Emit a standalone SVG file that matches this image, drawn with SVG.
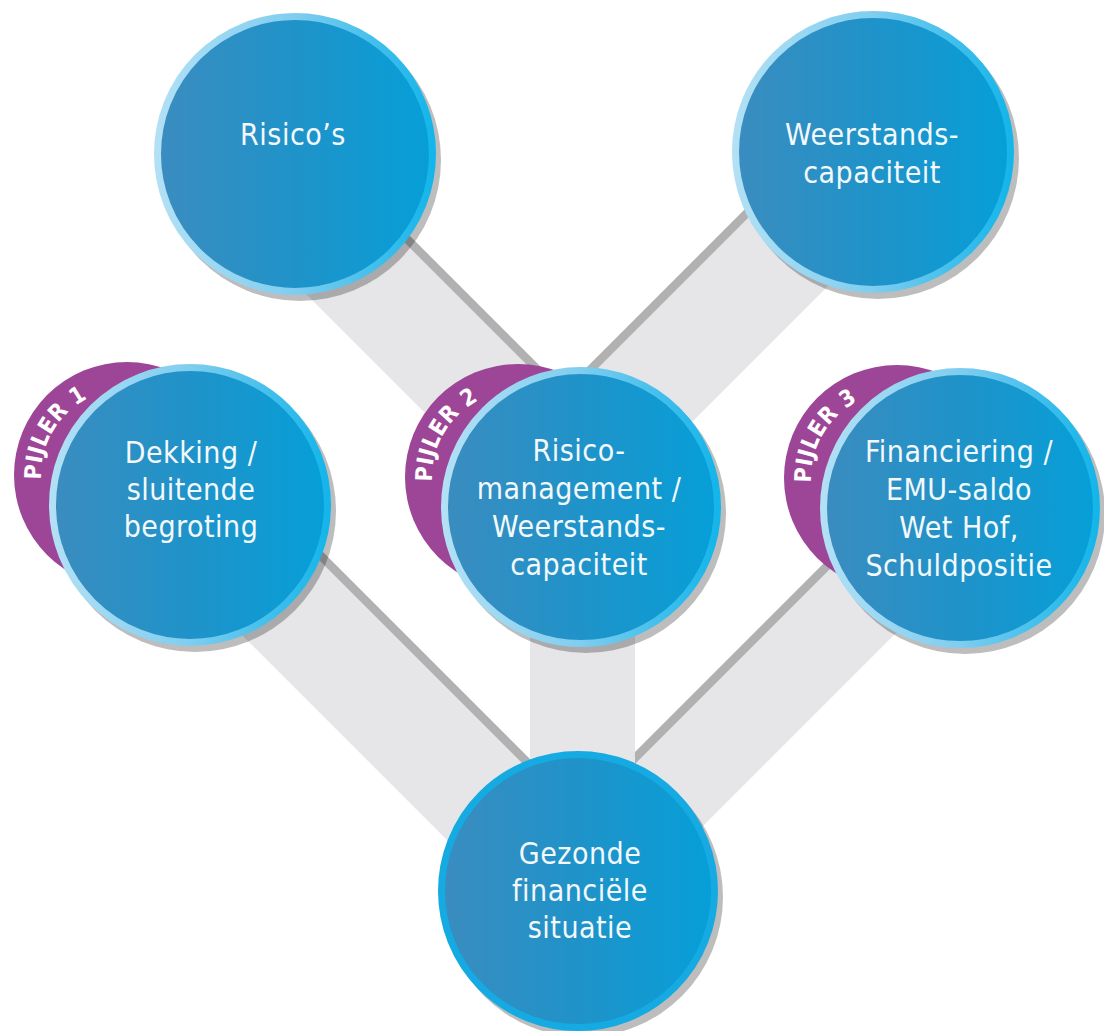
<svg xmlns="http://www.w3.org/2000/svg" width="1104" height="1031" viewBox="0 0 1104 1031">
<defs>
<linearGradient id="fillG" x1="0" y1="0" x2="1" y2="0">
<stop offset="0" stop-color="#3b8cbf"/>
<stop offset="0.5" stop-color="#1f93c9"/>
<stop offset="1" stop-color="#069fd8"/>
</linearGradient>
<linearGradient id="ringG" x1="0" y1="0" x2="1" y2="0">
<stop offset="0" stop-color="#b2e0f5"/>
<stop offset="0.5" stop-color="#80cdef"/>
<stop offset="1" stop-color="#14b5ea"/>
</linearGradient>
<style>
.band{fill:#e6e6e8}
.stripe{stroke:#b1b1b1;stroke-width:8.5;fill:none}
.shadow{fill:#000;fill-opacity:0.26}
.disc{fill:url(#fillG);stroke:url(#ringG);stroke-width:7}
.disc2{fill:url(#fillG);stroke:#16aae2;stroke-width:7}
.pillar{fill:#9d4597}
.lbl{font-family:"DejaVu Sans Condensed","DejaVu Sans",sans-serif;font-stretch:condensed;font-size:30px;fill:#f3f8fb;text-anchor:middle;letter-spacing:0.5px}
.pl{font-family:"DejaVu Sans Condensed","DejaVu Sans",sans-serif;font-stretch:condensed;font-weight:bold;font-size:23px;fill:#ffffff;letter-spacing:0.5px}
</style>
<path id="arc1" d="M71.7,540.9 A86,86 0 0 1 156.4,394.2"/>
<path id="arc2" d="M462.7,542.9 A86,86 0 0 1 547.4,396.2"/>
<path id="arc3" d="M841.7,543.9 A86,86 0 0 1 926.4,397.2"/>
</defs>
<rect x="0" y="0" width="1104" height="1031" fill="#ffffff"/>

<g id="connectors">
<polygon class="band" points="330,162 600,432 522,510 252,240"/>
<line class="stripe" x1="330" y1="162" x2="600" y2="432"/>
<polygon class="band" points="800,160 877,237 647,467 570,390"/>
<line class="stripe" x1="800" y1="160" x2="570" y2="390"/>
<polygon class="band" points="280,515 560,795 481,874 201,594"/>
<line class="stripe" x1="280" y1="515" x2="560" y2="795"/>
<polygon class="band" points="880,513 948,581 678,851 610,783"/>
<line class="stripe" x1="880" y1="513" x2="610" y2="783"/>
<rect class="band" x="530" y="560" width="105" height="240"/>
</g>

<g id="node-risicos">
<circle class="shadow" cx="300" cy="160" r="141"/>
<circle class="disc" cx="295" cy="154" r="137.5"/>
<text class="lbl" x="293" y="145">Risico’s</text>
</g>

<g id="node-weerstand">
<circle class="shadow" cx="878" cy="158" r="141"/>
<circle class="disc" cx="873" cy="152" r="137.5"/>
<text class="lbl" x="872" y="145">Weerstands-</text>
<text class="lbl" x="872" y="183">capaciteit</text>
</g>

<g id="node-pijler1">
<circle class="pillar" cx="127" cy="475" r="113"/>
<text class="pl"><textPath href="#arc1" startOffset="50%" text-anchor="middle">PIJLER 1</textPath></text>
<circle class="shadow" cx="195" cy="511" r="141"/>
<circle class="disc" cx="190" cy="505" r="137.5"/>
<text class="lbl" x="191" y="463">Dekking /</text>
<text class="lbl" x="191" y="500">sluitende</text>
<text class="lbl" x="191" y="537">begroting</text>
</g>

<g id="node-pijler2">
<circle class="pillar" cx="518" cy="477" r="113"/>
<text class="pl"><textPath href="#arc2" startOffset="50%" text-anchor="middle">PIJLER 2</textPath></text>
<circle class="shadow" cx="586" cy="513" r="140"/>
<circle class="disc" cx="581" cy="507" r="136.5"/>
<text class="lbl" x="579" y="461">Risico-</text>
<text class="lbl" x="579" y="499">management /</text>
<text class="lbl" x="579" y="537">Weerstands-</text>
<text class="lbl" x="579" y="575">capaciteit</text>
</g>

<g id="node-pijler3">
<circle class="pillar" cx="897" cy="478" r="113"/>
<text class="pl"><textPath href="#arc3" startOffset="50%" text-anchor="middle">PIJLER 3</textPath></text>
<circle class="shadow" cx="965" cy="514" r="140"/>
<circle class="disc" cx="960" cy="508" r="136.5"/>
<text class="lbl" x="959" y="462">Financiering /</text>
<text class="lbl" x="959" y="500">EMU-saldo</text>
<text class="lbl" x="959" y="538">Wet Hof,</text>
<text class="lbl" x="959" y="576">Schuldpositie</text>
</g>

<g id="node-gezond">
<circle class="shadow" cx="583" cy="897" r="140"/>
<circle class="disc2" cx="578" cy="891" r="136.5"/>
<text class="lbl" x="580" y="864">Gezonde</text>
<text class="lbl" x="580" y="901">financiële</text>
<text class="lbl" x="580" y="938">situatie</text>
</g>
</svg>
